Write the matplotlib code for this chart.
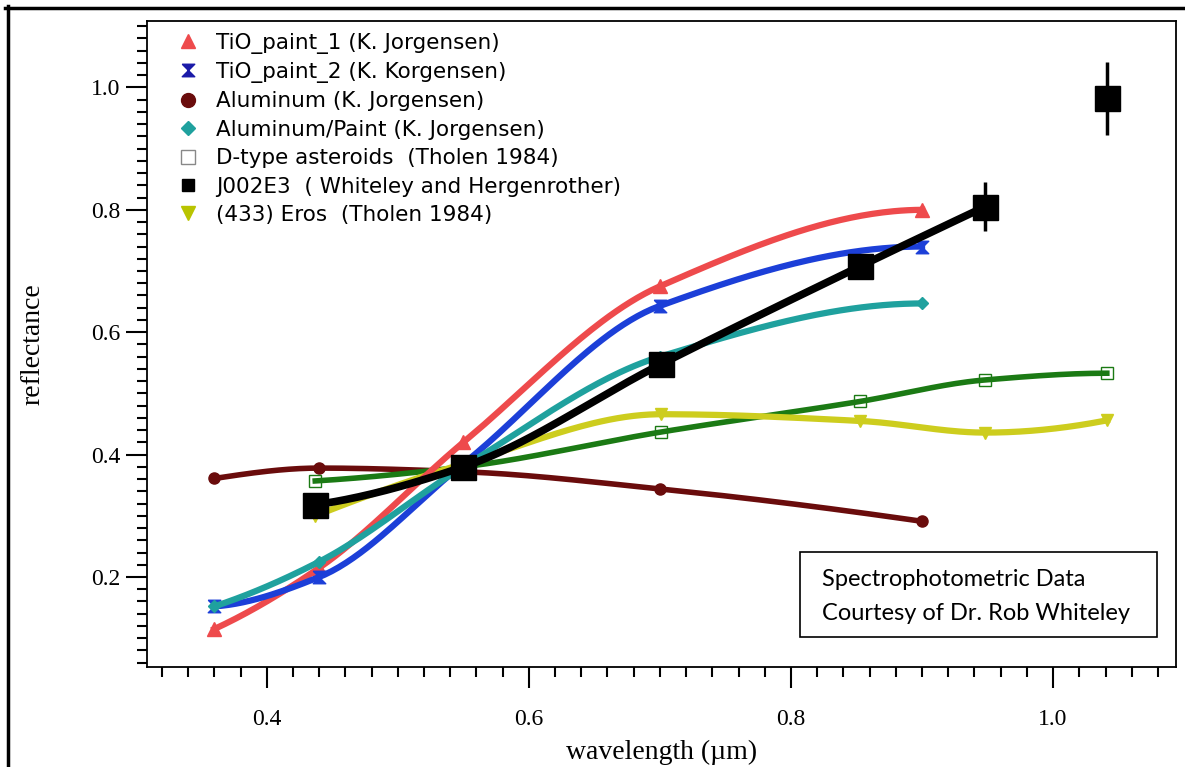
import numpy as np
import matplotlib.pyplot as plt
from matplotlib.lines import Line2D
from matplotlib.patches import Rectangle
from matplotlib.path import Path

# wavelengths (um)
wl_lab = [0.36, 0.44, 0.55, 0.70, 0.90]
wl_ecas = [0.437, 0.550, 0.701, 0.853, 0.948, 1.041]

# reflectance values
tio1 = [0.115, 0.215, 0.42, 0.675, 0.80]
tio2 = [0.152, 0.20, 0.385, 0.643, 0.740]
alum = [0.361, 0.378, 0.372, 0.344, 0.291]
alum_paint = [0.152, 0.225, 0.38, 0.56, 0.647]
dtype = [0.357, 0.38, 0.437, 0.487, 0.522, 0.533]
eros = [0.30, 0.385, 0.466, 0.455, 0.436, 0.456]
j002e3 = [0.318, 0.38, 0.548, 0.708, 0.805, 0.982]
j002e3_err = [0.005, 0.005, 0.01, 0.01, 0.04, 0.06]

labels = ['TiO_paint_1 (K. Jorgensen)',
          'TiO_paint_2 (K. Korgensen)',
          'Aluminum (K. Jorgensen)',
          'Aluminum/Paint (K. Jorgensen)',
          'D-type asteroids  (Tholen 1984)',
          'J002E3  ( Whiteley and Hergenrother)',
          '(433) Eros  (Tholen 1984)']

red = '#ee4a4c'
blue = '#1c3fd8'
dred = '#6a0c0c'
teal = '#1fa19e'
green = '#1b7a14'
yellow = '#cdcd1e'

# hourglass marker
hourglass = Path([(-1, 1), (1, 1), (-1, -1), (1, -1), (-1, 1)])


def smooth(x, y, n=200):
    # monotone cubic (pchip) through the points, just for drawing the curve
    x = np.asarray(x, float)
    y = np.asarray(y, float)
    h = np.diff(x)
    d = np.diff(y) / h
    m = np.zeros_like(y)
    for k in range(1, len(x) - 1):
        if d[k - 1] * d[k] > 0:
            w1 = 2 * h[k] + h[k - 1]
            w2 = h[k] + 2 * h[k - 1]
            m[k] = (w1 + w2) / (w1 / d[k - 1] + w2 / d[k])
    m[0] = ((2 * h[0] + h[1]) * d[0] - h[0] * d[1]) / (h[0] + h[1])
    if m[0] * d[0] <= 0:
        m[0] = 0
    m[-1] = ((2 * h[-1] + h[-2]) * d[-1] - h[-1] * d[-2]) / (h[-1] + h[-2])
    if m[-1] * d[-1] <= 0:
        m[-1] = 0
    xs = np.linspace(x[0], x[-1], n)
    k = np.clip(np.searchsorted(x, xs) - 1, 0, len(x) - 2)
    t = (xs - x[k]) / h[k]
    h00 = 2 * t**3 - 3 * t**2 + 1
    h10 = t**3 - 2 * t**2 + t
    h01 = -2 * t**3 + 3 * t**2
    h11 = t**3 - t**2
    ys = h00 * y[k] + h10 * h[k] * m[k] + h01 * y[k + 1] + h11 * h[k] * m[k + 1]
    return xs, ys


fig = plt.figure(figsize=(11.85, 7.67), dpi=100)
ax = fig.add_axes([0.1238, 0.1304, 0.8684, 0.8426])

xs, ys = smooth(wl_lab, alum)
ax.plot(xs, ys, color=dred, lw=4, zorder=2)
ax.plot(wl_lab, alum, 'o', color=dred, ms=8, zorder=2)

xs, ys = smooth(wl_ecas, dtype)
ax.plot(xs, ys, color=green, lw=4, zorder=2)
ax.plot(wl_ecas, dtype, 's', mfc='none', mec=green, mew=1, ms=9, zorder=2)

xs, ys = smooth(wl_ecas, eros)
ax.plot(xs, ys, color=yellow, lw=4.5, zorder=3)
ax.plot(wl_ecas, eros, 'v', color=yellow, ms=9, zorder=3)

xs, ys = smooth(wl_lab, tio1)
ax.plot(xs, ys, color=red, lw=4.5, zorder=3)
ax.plot(wl_lab, tio1, '^', color=red, ms=10, zorder=3)

xs, ys = smooth(wl_lab, tio2)
ax.plot(xs, ys, color=blue, lw=4.5, zorder=3)
ax.plot(wl_lab, tio2, marker=hourglass, ls='none', color=blue, ms=9, zorder=3)

xs, ys = smooth(wl_lab, alum_paint)
ax.plot(xs, ys, color=teal, lw=4.5, zorder=3)
ax.plot(wl_lab, alum_paint, 'D', color=teal, ms=6, zorder=3)

xs, ys = smooth(wl_ecas[:5], j002e3[:5])
ax.plot(xs, ys, color='black', lw=5.5, zorder=4)
ax.errorbar(wl_ecas, j002e3, yerr=j002e3_err, fmt='s', color='black',
            ms=18, elinewidth=2.5, capsize=0, zorder=4)

ax.set_xlim(0.3084, 1.0936)
ax.set_ylim(0.053, 1.109)
ax.set_xticks([0.4, 0.6, 0.8, 1.0])
ax.set_xticklabels(['0.4', '0.6', '0.8', '1.0'])
ax.set_yticks([0.2, 0.4, 0.6, 0.8, 1.0])
ax.set_yticklabels(['0.2', '0.4', '0.6', '0.8', '1.0'])
ax.set_xticks(np.arange(0.32, 1.09, 0.02), minor=True)
ax.set_yticks(np.arange(0.06, 1.101, 0.02), minor=True)
ax.tick_params(which='major', length=15, width=1.5, labelsize=17, pad=15)
ax.tick_params(which='minor', length=7, width=1.5)
ax.tick_params(axis='y', which='major', pad=4)
for lbl in ax.get_xticklabels() + ax.get_yticklabels():
    lbl.set_family('Liberation Serif')
for s in ax.spines.values():
    s.set_linewidth(1.3)

ax.set_xlabel('wavelength (\u00b5m)', family='Liberation Serif', fontsize=20, labelpad=7)
ax.set_ylabel('reflectance', family='Liberation Serif', fontsize=20, labelpad=33)

handles = [
    Line2D([], [], ls='none', marker='^', color=red, ms=10),
    Line2D([], [], ls='none', marker=hourglass, color='#1a1aa8', ms=9),
    Line2D([], [], ls='none', marker='o', color=dred, ms=10),
    Line2D([], [], ls='none', marker='D', color=teal, ms=7),
    Line2D([], [], ls='none', marker='s', mfc='none', mec='#888888', mew=1, ms=10),
    Line2D([], [], ls='none', marker='s', color='black', ms=9),
    Line2D([], [], ls='none', marker='v', color='#b9c400', ms=10),
]
ax.legend(handles, labels, loc='upper left', bbox_to_anchor=(0.02, 0.995),
          frameon=False, prop={'family': 'DejaVu Sans', 'size': 15.5},
          handlelength=1.1, handletextpad=0.75, labelspacing=0.39, borderaxespad=0)

# credit box
fig.patches.append(Rectangle((800 / 1185, 1 - 637 / 767), 357 / 1185, 85 / 767,
                             transform=fig.transFigure, fill=False,
                             edgecolor='black', lw=1.2))
fig.text(822 / 1185, 1 - 580 / 767, 'Spectrophotometric Data', family='Lato',
         fontsize=17, va='center')
fig.text(822 / 1185, 1 - 613 / 767, 'Courtesy of Dr. Rob Whiteley', family='Lato',
         fontsize=17, va='center')

# outer frame (top and left edges)
fig.add_artist(Line2D([5 / 1185, 1], [1 - 7.5 / 767] * 2, color='black', lw=2.5,
                      transform=fig.transFigure))
fig.add_artist(Line2D([7.5 / 1185] * 2, [0, 1 - 6 / 767], color='black', lw=2.5,
                      transform=fig.transFigure))

fig.savefig('out.png', dpi=100)
